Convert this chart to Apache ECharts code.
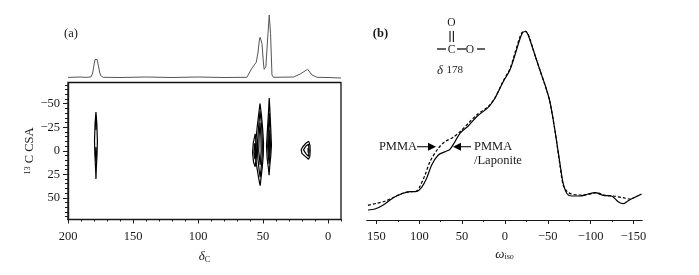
<!DOCTYPE html>
<html>
<head>
<meta charset="utf-8">
<script src="https://cdn.jsdelivr.net/npm/echarts@6/dist/echarts.min.js"></script>
<style>html,body{margin:0;padding:0;background:#fff}#c{width:699px;height:275px}</style>
</head>
<body>
<div id="c"></div>
<script>
// (a) projection above the contour plot: [delta_C, intensity]
const projection = [[200,2.6],[190,3],[186,2.6],[182.2,3.2],[181,7],[180,15],[179.2,20.5],[178.5,22.3],[177.6,20.5],[176.7,15],[175.7,8],[174.9,4.5],[172.9,2.7],[160,2.5],[140,3],[120,2.5],[100,3],[80,2.5],[62.4,2.7],[58.6,11.7],[55.2,17.7],[53.9,27],[52.8,40],[52.2,42.7],[50.8,36.7],[49.6,16],[49.1,10.7],[47.8,13.3],[46.5,40],[45.2,65],[44.2,46.7],[43.1,5],[41.9,2.7],[26.5,3],[21.3,6],[15.7,10.7],[12.3,5],[8.5,2.7],[0,2.5],[-10,2]];

// (a) contour rings: [delta_C, CSA]
const peakC178outer = [[178.5,-41],[179.2,-28],[179.6,-10],[179.3,5],[178.8,18],[178.5,30],[178.2,18],[177.7,5],[177.4,-10],[177.8,-28],[178.5,-41]];
const peakC178upper = [[178.5,-37],[178.9,-30],[178.5,-22],[178.1,-30],[178.5,-37]];
const peakC178lower = [[178.5,-4],[178.9,3],[178.5,11],[178.1,3],[178.5,-4]];
const peakA52outer = [[52.3,-50],[53.2,-40],[54.5,-25],[55.5,-10],[56,3],[55,15],[53.8,25],[52.8,33],[52.2,37],[51.6,30],[50.6,18],[49.8,5],[49.6,-8],[50.2,-22],[51.2,-38],[52.3,-50]];
const peakA52mid = [[52.3,-42],[53.4,-25],[54.3,-8],[54,8],[53,20],[52.2,28],[51.4,18],[50.6,5],[50.5,-8],[51,-25],[52.3,-42]];
const peakA52inner = [[52.3,-30],[53,-15],[53.3,0],[52.2,15],[51.4,0],[51.6,-15],[52.3,-30]];
const shoulder56outer = [[56,-18],[57.5,-8],[58,2],[57.3,12],[56,17],[55,5],[55.2,-8],[56,-18]];
const shoulder56inner = [[56.4,-8],[57,2],[56.2,9],[55.8,0],[56.4,-8]];
const peakB45outer = [[45.2,-56],[45.8,-40],[46.7,-20],[47.3,-5],[46.8,8],[45.9,18],[45.3,26],[44.8,16],[44,5],[43.5,-6],[44,-22],[44.6,-40],[45.2,-56]];
const peakB45mid = [[45.2,-40],[46,-20],[46.4,-5],[45.9,6],[45.3,14],[44.7,5],[44.3,-6],[44.6,-20],[45.2,-40]];
const peakB45inner = [[45.3,-22],[45.8,-6],[45.3,6],[44.8,-6],[45.3,-22]];
const peakD16outer = [[14.8,-10],[17,-8],[19.5,-4],[20.6,-1],[20,3],[17.5,6],[15,9],[14,6],[13.7,0],[13.9,-6],[14.8,-10]];
const peakD16mid = [[15,-7],[17,-5],[18.8,-1],[17,3],[15,6],[14.5,0],[15,-7]];
const peakD16inner = [[15.3,-3],[16.6,-1],[15.3,2],[15,0],[15.3,-3]];
const contours = [peakC178outer,peakC178upper,peakC178lower,peakA52outer,peakA52mid,peakA52inner,shoulder56outer,shoulder56inner,peakB45outer,peakB45mid,peakB45inner,peakD16outer,peakD16mid,peakD16inner];

// (b) [omega_iso, intensity]
const pmmaLaponite = [[159.9,10],[151.7,11],[142,15],[130.3,22.3],[118.7,26.7],[110.9,28.3],[103,28.7],[97.2,32.7],[91.4,41.7],[85.5,55],[77.8,65],[70,68.3],[64.2,70.7],[58.3,78.3],[52.5,86.7],[42.8,94],[33,103.3],[19.5,112.7],[11.7,121.7],[2,138.3],[-5.8,150],[-11.7,165],[-17.5,181],[-20.4,187],[-23.6,188.5],[-26.3,186.5],[-29.2,180],[-35,165],[-40.8,150],[-47.5,133.3],[-52.5,118.3],[-58.3,90],[-64.2,56.7],[-68,36.7],[-72.7,26],[-77.8,24],[-87.5,24],[-97.2,26],[-105,27.3],[-114.7,24.7],[-124.5,24],[-132.2,18.3],[-138,16.3],[-143.9,19.3],[-151.7,22.7],[-159.5,26]];
const pmma = [[159.9,14.7],[149.8,16.7],[140,18.7],[130.3,22.5],[118.7,27],[110.9,28.3],[103,29],[99,34],[93.3,45],[87.5,58.3],[77.8,71.7],[70,78.3],[60.3,82.7],[52.5,88.3],[42.8,96.7],[33,105],[19.5,113.5],[11.7,122],[2,139],[-5.8,151],[-11.7,167],[-17.5,183],[-20.4,188],[-23.6,189],[-26.3,187],[-29.2,181],[-35,165],[-40.8,150],[-47.5,133],[-52.5,118],[-58.3,90],[-64.2,55],[-68,35],[-72.7,28.3],[-77.8,26],[-85.5,25],[-95.3,25.3],[-103,26.7],[-107,27.3],[-116.7,24.7],[-126.5,24],[-138,22.3],[-145.8,21],[-151.7,22.7]];

// tick values
const deltaMajor = [200,150,100,50,0];
const deltaMinor = [190,180,170,160,140,130,120,110,90,80,70,60,40,30,20,10,-10];
const csaMajor = [-50,-25,0,25,50];
const csaMinor = [-70,-65,-60,-55,-45,-40,-35,-30,-20,-15,-10,-5,5,10,15,20,30,35,40,45,55,60,65,70];
const omegaMajor = [150,100,50,0,-50,-100,-150];
const omegaMinor = [125,75,25,-25,-75,-125];

const FONT = '"Liberation Serif","Times New Roman",serif';
const INK = '#1a1a1a';
const fmt = v => v < 0 ? '\u2212' + Math.abs(v) : String(v);
const lbl = (vals, extra) => Object.assign({show:true, customValues:vals, formatter:fmt, fontFamily:FONT, fontSize:12.5, color:INK}, extra||{});
const hiddenAxis = (grid, min, max, inverse) => ({type:'value', gridIndex:grid, min, max, inverse:!!inverse, show:false, splitLine:{show:false}});
const tickAxis = (base, vals, len, label, extra) => Object.assign({type:'value', splitLine:{show:false},
  axisLine:{show:true, onZero:false, lineStyle:{color:INK, width:1.2}},
  axisTick:{show:true, customValues:vals, length:len, lineStyle:{color:INK, width:1}},
  axisLabel: label || {show:false}}, base, extra||{});

const series = [
  {type:'line', xAxisIndex:0, yAxisIndex:0, data:projection, showSymbol:false, silent:true, lineStyle:{color:'#555', width:1}}
];
contours.forEach(c => series.push({type:'line', xAxisIndex:1, yAxisIndex:1, data:c, showSymbol:false, silent:true, lineStyle:{color:'#000', width:1.2}}));
series.push({type:'line', name:'PMMA/Laponite', xAxisIndex:3, yAxisIndex:3, data:pmmaLaponite, smooth:0.3, showSymbol:false, silent:true, lineStyle:{color:'#000', width:1.2}});
series.push({type:'line', name:'PMMA', xAxisIndex:3, yAxisIndex:3, data:pmma, smooth:0.3, showSymbol:false, silent:true, lineStyle:{color:'#000', width:1.2, type:[3,2]}});

const chart = echarts.init(document.getElementById('c'), null, {renderer:'canvas'});
const deltaBase = {gridIndex:1, min:-10, max:200, inverse:true, position:'bottom'};
const csaBase = {gridIndex:1, min:-72.5, max:73, inverse:true, position:'left'};
const omegaBase = {gridIndex:2, min:-160, max:161, inverse:true, position:'bottom'};

const txt = (x,y,text,o) => ({type:'text', x, y, silent:true, style:Object.assign({text, fill:INK, font:'12.5px '+FONT, textAlign:'center', textVerticalAlign:'middle'}, o||{})});
const ln = (x1,y1,x2,y2,w) => ({type:'line', silent:true, shape:{x1,y1,x2,y2}, style:{stroke:'#222', lineWidth:w||1}});
const arrow = (x1,x2,y) => {
  const d = x2 > x1 ? 1 : -1;
  return [ln(x1,y,x2-d*6,y,1.2), {type:'polygon', silent:true, shape:{points:[[x2,y],[x2-d*8,y-4],[x2-d*8,y+4]]}, style:{fill:'#000'}}];
};

chart.setOption({
  animation:false,
  backgroundColor:'#fff',
  grid:[
    {left:68, width:273, top:10, height:70},
    {left:68, width:273, top:82.5, height:137, show:true, borderColor:'#111', borderWidth:1.3, backgroundColor:'transparent'},
    {left:367, width:275, top:20, height:200}
  ],
  xAxis:[
    hiddenAxis(0,-10,200,true),
    tickAxis(deltaBase, deltaMajor, 4, lbl(deltaMajor,{margin:11}), {
      name:'{i|\u03b4}{s|C}', nameLocation:'middle', nameGap:31,
      nameTextStyle:{rich:{i:{fontFamily:FONT,fontStyle:'italic',fontSize:13,color:INK}, s:{fontFamily:FONT,fontSize:8,color:INK,verticalAlign:'bottom'}}}
    }),
    tickAxis(deltaBase, deltaMinor, 2),
    tickAxis(omegaBase, omegaMajor, 4, lbl(omegaMajor,{margin:10}), {
      name:'{i|\u03c9}{s|iso}', nameLocation:'middle', nameGap:27,
      nameTextStyle:{rich:{i:{fontFamily:FONT,fontStyle:'italic',fontSize:13,color:INK}, s:{fontFamily:FONT,fontSize:8,color:INK,verticalAlign:'bottom'}}}
    }),
    tickAxis(omegaBase, omegaMinor, 2)
  ],
  yAxis:[
    hiddenAxis(0,0,70),
    tickAxis(csaBase, csaMajor, 5, lbl(csaMajor,{margin:8}), {
      name:'{s|13}{n| C CSA}', nameLocation:'middle', nameGap:31,
      nameTextStyle:{rich:{n:{fontFamily:FONT,fontSize:12.5,color:INK}, s:{fontFamily:FONT,fontSize:8,color:INK,verticalAlign:'top'}}}
    }),
    tickAxis(csaBase, csaMinor, 3),
    {type:'value', gridIndex:2, min:0, max:200, show:false, splitLine:{show:false}}
  ],
  series,
  graphic:[
    txt(71,33.5,'(a)'),
    txt(380.5,33.5,'(b)',{font:'bold 12.5px '+FONT}),
    txt(451.5,23,'O',{font:'11.5px '+FONT}),
    ln(450,31,450,42,1.2), ln(453.4,31,453.4,42,1.2),
    txt(451.7,49.5,'C',{font:'11.5px '+FONT}),
    txt(470,49.5,'O',{font:'11.5px '+FONT}),
    ln(437,49,446,49,1.4), ln(457,49,466,49,1.4), ln(477,49,485,49,1.4),
    {type:'text', x:437, y:70.5, silent:true, style:{text:'{i|\u03b4} {n|178}', textVerticalAlign:'middle', rich:{i:{fontFamily:FONT,fontStyle:'italic',fontSize:13,fill:INK}, n:{fontFamily:FONT,fontSize:11,fill:INK}}}},
    txt(398,147,'PMMA'),
    ...arrow(417,436,146.7),
    txt(474,147,'PMMA',{textAlign:'left'}),
    ...arrow(471,453,146.7),
    txt(474,161,'/Laponite',{textAlign:'left'})
  ]
});
</script>
</body>
</html>
